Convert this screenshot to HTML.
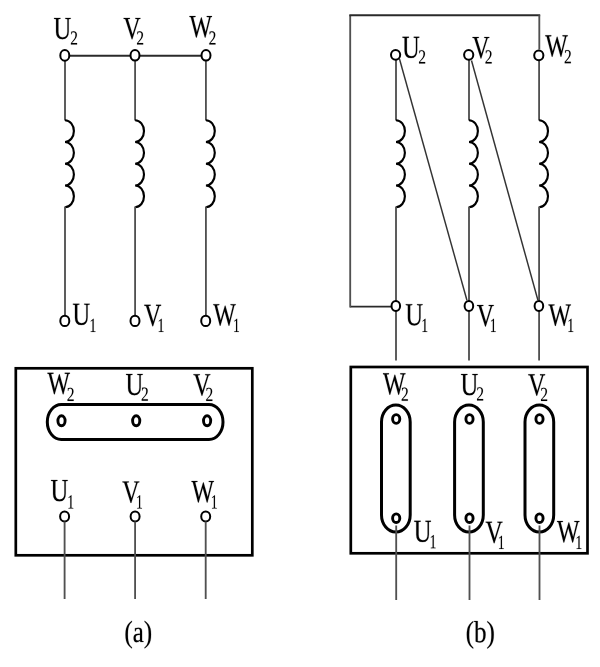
<!DOCTYPE html>
<html><head><meta charset="utf-8"><style>
html,body{margin:0;padding:0;background:#fff;}
svg{display:block;}
.wrap{width:600px;height:667px;}
.g{fill:#000;stroke:#000;stroke-width:14;}
.wire{stroke:#505050;stroke-width:1.85;fill:none;}
.hwire{stroke:#2a2a2a;stroke-width:1.9;fill:none;}
.wire2{stroke:#505050;stroke-width:1.85;fill:none;}
.diag{stroke:#333;stroke-width:1.45;fill:none;}
.coil{stroke:#000;stroke-width:2.15;fill:none;}
.term{stroke:#000;stroke-width:2;fill:#fff;}
.small{stroke:#000;stroke-width:2.9;fill:#fff;}
.box{stroke:#000;stroke-width:2.7;fill:none;}
.ob{stroke:#000;stroke-width:3;fill:none;}
</style></head><body>
<div class="wrap"><svg width="600" height="667" viewBox="0 0 600 667">
<rect width="600" height="667" fill="#fff"/>
<line x1="69.5" y1="55.7" x2="130.5" y2="55.7" class="hwire"/><line x1="139.5" y1="55.7" x2="201.5" y2="55.7" class="hwire"/><line x1="65" y1="60.5" x2="65" y2="120.5" class="wire"/><path d="M65,120.2 a8.9,10.875 0 0 1 0,21.75 a8.9,10.875 0 0 1 0,21.75 a8.9,10.875 0 0 1 0,21.75 a8.9,10.875 0 0 1 0,21.75" class="coil"/><line x1="65" y1="206.5" x2="65" y2="315.5" class="wire"/><line x1="135.1" y1="60.5" x2="135.1" y2="120.5" class="wire"/><path d="M135.1,120.2 a8.9,10.875 0 0 1 0,21.75 a8.9,10.875 0 0 1 0,21.75 a8.9,10.875 0 0 1 0,21.75 a8.9,10.875 0 0 1 0,21.75" class="coil"/><line x1="135.1" y1="206.5" x2="135.1" y2="315.5" class="wire"/><line x1="205.9" y1="60.5" x2="205.9" y2="120.5" class="wire"/><path d="M205.9,120.2 a8.9,10.875 0 0 1 0,21.75 a8.9,10.875 0 0 1 0,21.75 a8.9,10.875 0 0 1 0,21.75 a8.9,10.875 0 0 1 0,21.75" class="coil"/><line x1="205.9" y1="206.5" x2="205.9" y2="315.5" class="wire"/><ellipse cx="64.8" cy="55.4" rx="4.5" ry="5.3" class="term"/><ellipse cx="135" cy="55.3" rx="4.5" ry="5.3" class="term"/><ellipse cx="206" cy="55.3" rx="4.5" ry="5.3" class="term"/><ellipse cx="64.8" cy="320.9" rx="4.5" ry="5.2" class="term"/><ellipse cx="135" cy="320.9" rx="4.5" ry="5.2" class="term"/><ellipse cx="205.7" cy="320.9" rx="4.5" ry="5.2" class="term"/><rect x="15.8" y="368.3" width="236.5" height="187" class="box"/><rect x="47.3" y="404.5" width="175.7" height="35" rx="14" ry="17.5" class="ob"/><ellipse cx="61.5" cy="420.8" rx="3.6" ry="5.0" class="small"/><ellipse cx="136.2" cy="420.8" rx="3.6" ry="5.0" class="small"/><ellipse cx="207.1" cy="420.8" rx="3.6" ry="5.0" class="small"/><ellipse cx="64.6" cy="516.5" rx="4.5" ry="5.0" class="term"/><line x1="64.6" y1="521.5" x2="64.6" y2="599" class="wire2"/><ellipse cx="135.1" cy="516.5" rx="4.5" ry="5.0" class="term"/><line x1="135.1" y1="521.5" x2="135.1" y2="599" class="wire2"/><ellipse cx="205.7" cy="516.5" rx="4.5" ry="5.0" class="term"/><line x1="205.7" y1="521.5" x2="205.7" y2="599" class="wire2"/><path d="M391,306.6 H350.2" class="hwire"/><path d="M350.2,307.5 V15.2" class="wire"/><path d="M349.3,15.2 H540.2" class="hwire"/><path d="M539.3,15.2 V49.5" class="wire"/><line x1="396" y1="59.8" x2="396" y2="120.5" class="wire"/><path d="M396,120.2 a8.9,10.875 0 0 1 0,21.75 a8.9,10.875 0 0 1 0,21.75 a8.9,10.875 0 0 1 0,21.75 a8.9,10.875 0 0 1 0,21.75" class="coil"/><line x1="396" y1="206.5" x2="396" y2="301" class="wire"/><line x1="396" y1="311" x2="396" y2="360.5" class="wire2"/><line x1="469" y1="59.8" x2="469" y2="120.5" class="wire"/><path d="M469,120.2 a8.9,10.875 0 0 1 0,21.75 a8.9,10.875 0 0 1 0,21.75 a8.9,10.875 0 0 1 0,21.75 a8.9,10.875 0 0 1 0,21.75" class="coil"/><line x1="469" y1="206.5" x2="469" y2="301" class="wire"/><line x1="469" y1="311" x2="469" y2="360.5" class="wire2"/><line x1="539.1" y1="59.8" x2="539.1" y2="120.5" class="wire"/><path d="M539.1,120.2 a8.9,10.875 0 0 1 0,21.75 a8.9,10.875 0 0 1 0,21.75 a8.9,10.875 0 0 1 0,21.75 a8.9,10.875 0 0 1 0,21.75" class="coil"/><line x1="539.1" y1="206.5" x2="539.1" y2="301" class="wire"/><line x1="539.1" y1="311" x2="539.1" y2="360.5" class="wire2"/><ellipse cx="395.6" cy="54.8" rx="4.6" ry="4.9" class="term"/><ellipse cx="468.7" cy="54.8" rx="4.6" ry="4.9" class="term"/><ellipse cx="538.8" cy="55.3" rx="4.6" ry="4.9" class="term"/><ellipse cx="395.8" cy="306" rx="4.3" ry="5.0" class="term"/><ellipse cx="468.9" cy="306" rx="4.3" ry="5.0" class="term"/><ellipse cx="538.9" cy="306" rx="4.3" ry="5.0" class="term"/><line x1="399.5" y1="59" x2="467" y2="300.5" class="diag"/><line x1="471.5" y1="60.5" x2="538" y2="300.5" class="diag"/><rect x="350.8" y="367" width="236.7" height="186.3" class="box"/><rect x="381.5" y="405" width="28.7" height="127" rx="14.35" ry="17" class="ob"/><rect x="454.59999999999997" y="405" width="28.7" height="127" rx="14.35" ry="17" class="ob"/><rect x="525.0" y="405" width="28.7" height="127" rx="14.35" ry="17" class="ob"/><ellipse cx="396.2" cy="419" rx="3.6" ry="4.35" class="small"/><ellipse cx="396.2" cy="518.2" rx="3.6" ry="4.35" class="small"/><line x1="396.2" y1="525.5" x2="396.2" y2="600" class="wire2"/><ellipse cx="469.5" cy="419" rx="3.6" ry="4.35" class="small"/><ellipse cx="469.5" cy="518.2" rx="3.6" ry="4.35" class="small"/><line x1="469.5" y1="525.5" x2="469.5" y2="600" class="wire2"/><ellipse cx="539.5" cy="419" rx="3.6" ry="4.35" class="small"/><ellipse cx="539.5" cy="518.2" rx="3.6" ry="4.35" class="small"/><line x1="539.5" y1="525.5" x2="539.5" y2="600" class="wire2"/>
<path transform="matrix(0.01203,0,0,-0.01562,53.48,38.85)" d="M1159 1262 979 1288V1341H1436V1288L1264 1262V461Q1264 220 1131.5 100.0Q999 -20 747 -20Q480 -20 347.5 100.5Q215 221 215 442V1262L43 1288V1341H579V1288L407 1262V457Q407 92 762 92Q954 92 1056.5 183.0Q1159 274 1159 453Z" class="g"/><path transform="matrix(0.00752,0,0,-0.00977,70.22,44.60)" d="M911 0H90V147L276 316Q455 473 539.0 570.0Q623 667 659.5 770.0Q696 873 696 1006Q696 1136 637.0 1204.0Q578 1272 444 1272Q391 1272 335.0 1257.5Q279 1243 236 1219L201 1055H135V1313Q317 1356 444 1356Q664 1356 774.5 1264.5Q885 1173 885 1006Q885 894 841.5 794.5Q798 695 708.0 596.5Q618 498 410 321Q321 245 221 154H911Z" class="g"/><path transform="matrix(0.01172,0,0,-0.01562,123.33,38.85)" d="M1456 1341V1288L1309 1262L770 -31H719L174 1262L23 1288V1341H565V1288L385 1262L791 275L1196 1262L1020 1288V1341Z" class="g"/><path transform="matrix(0.00752,0,0,-0.00977,136.32,44.60)" d="M911 0H90V147L276 316Q455 473 539.0 570.0Q623 667 659.5 770.0Q696 873 696 1006Q696 1136 637.0 1204.0Q578 1272 444 1272Q391 1272 335.0 1257.5Q279 1243 236 1219L201 1055H135V1313Q317 1356 444 1356Q664 1356 774.5 1264.5Q885 1173 885 1006Q885 894 841.5 794.5Q798 695 708.0 596.5Q618 498 410 321Q321 245 221 154H911Z" class="g"/><path transform="matrix(0.01164,0,0,-0.01562,189.48,37.05)" d="M1374 -31H1321L973 893L616 -31H563L119 1262L2 1288V1341H514V1288L317 1262L636 317L997 1247H1042L1390 317L1694 1262L1485 1288V1341H1929V1288L1812 1262Z" class="g"/><path transform="matrix(0.00752,0,0,-0.00977,208.62,44.60)" d="M911 0H90V147L276 316Q455 473 539.0 570.0Q623 667 659.5 770.0Q696 873 696 1006Q696 1136 637.0 1204.0Q578 1272 444 1272Q391 1272 335.0 1257.5Q279 1243 236 1219L201 1055H135V1313Q317 1356 444 1356Q664 1356 774.5 1264.5Q885 1173 885 1006Q885 894 841.5 794.5Q798 695 708.0 596.5Q618 498 410 321Q321 245 221 154H911Z" class="g"/><path transform="matrix(0.01203,0,0,-0.01562,72.38,324.70)" d="M1159 1262 979 1288V1341H1436V1288L1264 1262V461Q1264 220 1131.5 100.0Q999 -20 747 -20Q480 -20 347.5 100.5Q215 221 215 442V1262L43 1288V1341H579V1288L407 1262V457Q407 92 762 92Q954 92 1056.5 183.0Q1159 274 1159 453Z" class="g"/><path transform="matrix(0.00664,0,0,-0.00977,89.50,332.00)" d="M627 80 901 53V0H180V53L455 80V1174L184 1077V1130L575 1352H627Z" class="g"/><path transform="matrix(0.01172,0,0,-0.01562,144.03,325.75)" d="M1456 1341V1288L1309 1262L770 -31H719L174 1262L23 1288V1341H565V1288L385 1262L791 275L1196 1262L1020 1288V1341Z" class="g"/><path transform="matrix(0.00664,0,0,-0.00977,157.55,332.00)" d="M627 80 901 53V0H180V53L455 80V1174L184 1077V1130L575 1352H627Z" class="g"/><path transform="matrix(0.01164,0,0,-0.01562,213.28,325.15)" d="M1374 -31H1321L973 893L616 -31H563L119 1262L2 1288V1341H514V1288L317 1262L636 317L997 1247H1042L1390 317L1694 1262L1485 1288V1341H1929V1288L1812 1262Z" class="g"/><path transform="matrix(0.00664,0,0,-0.00977,233.00,332.00)" d="M627 80 901 53V0H180V53L455 80V1174L184 1077V1130L575 1352H627Z" class="g"/><path transform="matrix(0.01164,0,0,-0.01562,47.48,393.75)" d="M1374 -31H1321L973 893L616 -31H563L119 1262L2 1288V1341H514V1288L317 1262L636 317L997 1247H1042L1390 317L1694 1262L1485 1288V1341H1929V1288L1812 1262Z" class="g"/><path transform="matrix(0.00752,0,0,-0.00977,66.82,401.00)" d="M911 0H90V147L276 316Q455 473 539.0 570.0Q623 667 659.5 770.0Q696 873 696 1006Q696 1136 637.0 1204.0Q578 1272 444 1272Q391 1272 335.0 1257.5Q279 1243 236 1219L201 1055H135V1313Q317 1356 444 1356Q664 1356 774.5 1264.5Q885 1173 885 1006Q885 894 841.5 794.5Q798 695 708.0 596.5Q618 498 410 321Q321 245 221 154H911Z" class="g"/><path transform="matrix(0.01203,0,0,-0.01562,125.48,394.85)" d="M1159 1262 979 1288V1341H1436V1288L1264 1262V461Q1264 220 1131.5 100.0Q999 -20 747 -20Q480 -20 347.5 100.5Q215 221 215 442V1262L43 1288V1341H579V1288L407 1262V457Q407 92 762 92Q954 92 1056.5 183.0Q1159 274 1159 453Z" class="g"/><path transform="matrix(0.00752,0,0,-0.00977,141.02,400.70)" d="M911 0H90V147L276 316Q455 473 539.0 570.0Q623 667 659.5 770.0Q696 873 696 1006Q696 1136 637.0 1204.0Q578 1272 444 1272Q391 1272 335.0 1257.5Q279 1243 236 1219L201 1055H135V1313Q317 1356 444 1356Q664 1356 774.5 1264.5Q885 1173 885 1006Q885 894 841.5 794.5Q798 695 708.0 596.5Q618 498 410 321Q321 245 221 154H911Z" class="g"/><path transform="matrix(0.01172,0,0,-0.01562,193.23,395.15)" d="M1456 1341V1288L1309 1262L770 -31H719L174 1262L23 1288V1341H565V1288L385 1262L791 275L1196 1262L1020 1288V1341Z" class="g"/><path transform="matrix(0.00752,0,0,-0.00977,205.52,401.00)" d="M911 0H90V147L276 316Q455 473 539.0 570.0Q623 667 659.5 770.0Q696 873 696 1006Q696 1136 637.0 1204.0Q578 1272 444 1272Q391 1272 335.0 1257.5Q279 1243 236 1219L201 1055H135V1313Q317 1356 444 1356Q664 1356 774.5 1264.5Q885 1173 885 1006Q885 894 841.5 794.5Q798 695 708.0 596.5Q618 498 410 321Q321 245 221 154H911Z" class="g"/><path transform="matrix(0.01203,0,0,-0.01562,50.48,500.95)" d="M1159 1262 979 1288V1341H1436V1288L1264 1262V461Q1264 220 1131.5 100.0Q999 -20 747 -20Q480 -20 347.5 100.5Q215 221 215 442V1262L43 1288V1341H579V1288L407 1262V457Q407 92 762 92Q954 92 1056.5 183.0Q1159 274 1159 453Z" class="g"/><path transform="matrix(0.00664,0,0,-0.00977,67.30,508.50)" d="M627 80 901 53V0H180V53L455 80V1174L184 1077V1130L575 1352H627Z" class="g"/><path transform="matrix(0.01172,0,0,-0.01562,122.23,502.45)" d="M1456 1341V1288L1309 1262L770 -31H719L174 1262L23 1288V1341H565V1288L385 1262L791 275L1196 1262L1020 1288V1341Z" class="g"/><path transform="matrix(0.00664,0,0,-0.00977,136.00,508.50)" d="M627 80 901 53V0H180V53L455 80V1174L184 1077V1130L575 1352H627Z" class="g"/><path transform="matrix(0.01164,0,0,-0.01562,191.48,501.95)" d="M1374 -31H1321L973 893L616 -31H563L119 1262L2 1288V1341H514V1288L317 1262L636 317L997 1247H1042L1390 317L1694 1262L1485 1288V1341H1929V1288L1812 1262Z" class="g"/><path transform="matrix(0.00664,0,0,-0.00977,210.80,508.50)" d="M627 80 901 53V0H180V53L455 80V1174L184 1077V1130L575 1352H627Z" class="g"/><path transform="matrix(0.01203,0,0,-0.01562,401.98,57.75)" d="M1159 1262 979 1288V1341H1436V1288L1264 1262V461Q1264 220 1131.5 100.0Q999 -20 747 -20Q480 -20 347.5 100.5Q215 221 215 442V1262L43 1288V1341H579V1288L407 1262V457Q407 92 762 92Q954 92 1056.5 183.0Q1159 274 1159 453Z" class="g"/><path transform="matrix(0.00752,0,0,-0.00977,418.32,63.50)" d="M911 0H90V147L276 316Q455 473 539.0 570.0Q623 667 659.5 770.0Q696 873 696 1006Q696 1136 637.0 1204.0Q578 1272 444 1272Q391 1272 335.0 1257.5Q279 1243 236 1219L201 1055H135V1313Q317 1356 444 1356Q664 1356 774.5 1264.5Q885 1173 885 1006Q885 894 841.5 794.5Q798 695 708.0 596.5Q618 498 410 321Q321 245 221 154H911Z" class="g"/><path transform="matrix(0.01172,0,0,-0.01562,472.23,57.95)" d="M1456 1341V1288L1309 1262L770 -31H719L174 1262L23 1288V1341H565V1288L385 1262L791 275L1196 1262L1020 1288V1341Z" class="g"/><path transform="matrix(0.00752,0,0,-0.00977,484.82,63.50)" d="M911 0H90V147L276 316Q455 473 539.0 570.0Q623 667 659.5 770.0Q696 873 696 1006Q696 1136 637.0 1204.0Q578 1272 444 1272Q391 1272 335.0 1257.5Q279 1243 236 1219L201 1055H135V1313Q317 1356 444 1356Q664 1356 774.5 1264.5Q885 1173 885 1006Q885 894 841.5 794.5Q798 695 708.0 596.5Q618 498 410 321Q321 245 221 154H911Z" class="g"/><path transform="matrix(0.01164,0,0,-0.01562,545.28,56.25)" d="M1374 -31H1321L973 893L616 -31H563L119 1262L2 1288V1341H514V1288L317 1262L636 317L997 1247H1042L1390 317L1694 1262L1485 1288V1341H1929V1288L1812 1262Z" class="g"/><path transform="matrix(0.00752,0,0,-0.00977,564.02,63.30)" d="M911 0H90V147L276 316Q455 473 539.0 570.0Q623 667 659.5 770.0Q696 873 696 1006Q696 1136 637.0 1204.0Q578 1272 444 1272Q391 1272 335.0 1257.5Q279 1243 236 1219L201 1055H135V1313Q317 1356 444 1356Q664 1356 774.5 1264.5Q885 1173 885 1006Q885 894 841.5 794.5Q798 695 708.0 596.5Q618 498 410 321Q321 245 221 154H911Z" class="g"/><path transform="matrix(0.01203,0,0,-0.01562,405.28,325.15)" d="M1159 1262 979 1288V1341H1436V1288L1264 1262V461Q1264 220 1131.5 100.0Q999 -20 747 -20Q480 -20 347.5 100.5Q215 221 215 442V1262L43 1288V1341H579V1288L407 1262V457Q407 92 762 92Q954 92 1056.5 183.0Q1159 274 1159 453Z" class="g"/><path transform="matrix(0.00664,0,0,-0.00977,421.30,332.00)" d="M627 80 901 53V0H180V53L455 80V1174L184 1077V1130L575 1352H627Z" class="g"/><path transform="matrix(0.01172,0,0,-0.01562,476.73,325.95)" d="M1456 1341V1288L1309 1262L770 -31H719L174 1262L23 1288V1341H565V1288L385 1262L791 275L1196 1262L1020 1288V1341Z" class="g"/><path transform="matrix(0.00664,0,0,-0.00977,489.80,332.00)" d="M627 80 901 53V0H180V53L455 80V1174L184 1077V1130L575 1352H627Z" class="g"/><path transform="matrix(0.01164,0,0,-0.01562,548.48,325.45)" d="M1374 -31H1321L973 893L616 -31H563L119 1262L2 1288V1341H514V1288L317 1262L636 317L997 1247H1042L1390 317L1694 1262L1485 1288V1341H1929V1288L1812 1262Z" class="g"/><path transform="matrix(0.00664,0,0,-0.00977,567.30,332.00)" d="M627 80 901 53V0H180V53L455 80V1174L184 1077V1130L575 1352H627Z" class="g"/><path transform="matrix(0.01164,0,0,-0.01562,382.98,394.25)" d="M1374 -31H1321L973 893L616 -31H563L119 1262L2 1288V1341H514V1288L317 1262L636 317L997 1247H1042L1390 317L1694 1262L1485 1288V1341H1929V1288L1812 1262Z" class="g"/><path transform="matrix(0.00752,0,0,-0.00977,401.02,400.80)" d="M911 0H90V147L276 316Q455 473 539.0 570.0Q623 667 659.5 770.0Q696 873 696 1006Q696 1136 637.0 1204.0Q578 1272 444 1272Q391 1272 335.0 1257.5Q279 1243 236 1219L201 1055H135V1313Q317 1356 444 1356Q664 1356 774.5 1264.5Q885 1173 885 1006Q885 894 841.5 794.5Q798 695 708.0 596.5Q618 498 410 321Q321 245 221 154H911Z" class="g"/><path transform="matrix(0.01203,0,0,-0.01562,460.48,394.95)" d="M1159 1262 979 1288V1341H1436V1288L1264 1262V461Q1264 220 1131.5 100.0Q999 -20 747 -20Q480 -20 347.5 100.5Q215 221 215 442V1262L43 1288V1341H579V1288L407 1262V457Q407 92 762 92Q954 92 1056.5 183.0Q1159 274 1159 453Z" class="g"/><path transform="matrix(0.00752,0,0,-0.00977,476.32,400.50)" d="M911 0H90V147L276 316Q455 473 539.0 570.0Q623 667 659.5 770.0Q696 873 696 1006Q696 1136 637.0 1204.0Q578 1272 444 1272Q391 1272 335.0 1257.5Q279 1243 236 1219L201 1055H135V1313Q317 1356 444 1356Q664 1356 774.5 1264.5Q885 1173 885 1006Q885 894 841.5 794.5Q798 695 708.0 596.5Q618 498 410 321Q321 245 221 154H911Z" class="g"/><path transform="matrix(0.01172,0,0,-0.01562,528.03,395.25)" d="M1456 1341V1288L1309 1262L770 -31H719L174 1262L23 1288V1341H565V1288L385 1262L791 275L1196 1262L1020 1288V1341Z" class="g"/><path transform="matrix(0.00752,0,0,-0.00977,540.32,401.00)" d="M911 0H90V147L276 316Q455 473 539.0 570.0Q623 667 659.5 770.0Q696 873 696 1006Q696 1136 637.0 1204.0Q578 1272 444 1272Q391 1272 335.0 1257.5Q279 1243 236 1219L201 1055H135V1313Q317 1356 444 1356Q664 1356 774.5 1264.5Q885 1173 885 1006Q885 894 841.5 794.5Q798 695 708.0 596.5Q618 498 410 321Q321 245 221 154H911Z" class="g"/><path transform="matrix(0.01203,0,0,-0.01562,413.68,541.75)" d="M1159 1262 979 1288V1341H1436V1288L1264 1262V461Q1264 220 1131.5 100.0Q999 -20 747 -20Q480 -20 347.5 100.5Q215 221 215 442V1262L43 1288V1341H579V1288L407 1262V457Q407 92 762 92Q954 92 1056.5 183.0Q1159 274 1159 453Z" class="g"/><path transform="matrix(0.00664,0,0,-0.00977,429.60,548.30)" d="M627 80 901 53V0H180V53L455 80V1174L184 1077V1130L575 1352H627Z" class="g"/><path transform="matrix(0.01172,0,0,-0.01562,485.43,542.65)" d="M1456 1341V1288L1309 1262L770 -31H719L174 1262L23 1288V1341H565V1288L385 1262L791 275L1196 1262L1020 1288V1341Z" class="g"/><path transform="matrix(0.00664,0,0,-0.00977,497.80,549.00)" d="M627 80 901 53V0H180V53L455 80V1174L184 1077V1130L575 1352H627Z" class="g"/><path transform="matrix(0.01164,0,0,-0.01562,556.98,541.95)" d="M1374 -31H1321L973 893L616 -31H563L119 1262L2 1288V1341H514V1288L317 1262L636 317L997 1247H1042L1390 317L1694 1262L1485 1288V1341H1929V1288L1812 1262Z" class="g"/><path transform="matrix(0.00664,0,0,-0.00977,575.40,549.00)" d="M627 80 901 53V0H180V53L455 80V1174L184 1077V1130L575 1352H627Z" class="g"/>
<path transform="matrix(0.01221,0,0,-0.01489,124.40,641.96)" d="M283 494Q283 234 318.0 79.5Q353 -75 428.0 -181.0Q503 -287 616 -352V-436Q418 -331 306.5 -206.5Q195 -82 142.5 86.5Q90 255 90 494Q90 732 142.0 899.5Q194 1067 305.0 1191.0Q416 1315 616 1421V1337Q494 1267 422.0 1157.5Q350 1048 316.5 902.0Q283 756 283 494Z" class="g"/><path transform="matrix(0.01221,0,0,-0.01489,132.73,641.96)" d="M465 961Q619 961 691.5 898.0Q764 835 764 705V70L881 45V0H623L604 94Q490 -20 313 -20Q72 -20 72 260Q72 354 108.5 415.5Q145 477 225.0 509.5Q305 542 457 545L598 549V696Q598 793 562.5 839.0Q527 885 453 885Q353 885 270 838L236 721H180V926Q342 961 465 961ZM598 479 467 475Q333 470 285.5 423.0Q238 376 238 266Q238 90 381 90Q449 90 498.5 105.5Q548 121 598 145Z" class="g"/><path transform="matrix(0.01221,0,0,-0.01489,143.83,641.96)" d="M66 -436V-352Q179 -287 254.0 -180.5Q329 -74 364.0 80.5Q399 235 399 494Q399 756 365.5 902.0Q332 1048 260.0 1157.5Q188 1267 66 1337V1421Q266 1314 377.0 1190.5Q488 1067 540.0 899.5Q592 732 592 494Q592 256 540.0 87.5Q488 -81 377.0 -205.0Q266 -329 66 -436Z" class="g"/><path transform="matrix(0.01221,0,0,-0.01489,465.70,642.16)" d="M283 494Q283 234 318.0 79.5Q353 -75 428.0 -181.0Q503 -287 616 -352V-436Q418 -331 306.5 -206.5Q195 -82 142.5 86.5Q90 255 90 494Q90 732 142.0 899.5Q194 1067 305.0 1191.0Q416 1315 616 1421V1337Q494 1267 422.0 1157.5Q350 1048 316.5 902.0Q283 756 283 494Z" class="g"/><path transform="matrix(0.01221,0,0,-0.01489,474.03,642.16)" d="M766 496Q766 680 702.0 770.0Q638 860 504 860Q445 860 387.0 849.5Q329 839 303 827V82Q387 66 504 66Q642 66 704.0 174.0Q766 282 766 496ZM137 1352 0 1376V1421H303V1085Q303 1031 297 887Q397 965 549 965Q741 965 843.5 848.5Q946 732 946 496Q946 243 833.5 111.5Q721 -20 508 -20Q422 -20 318.5 -1.0Q215 18 137 49Z" class="g"/><path transform="matrix(0.01221,0,0,-0.01489,486.53,642.16)" d="M66 -436V-352Q179 -287 254.0 -180.5Q329 -74 364.0 80.5Q399 235 399 494Q399 756 365.5 902.0Q332 1048 260.0 1157.5Q188 1267 66 1337V1421Q266 1314 377.0 1190.5Q488 1067 540.0 899.5Q592 732 592 494Q592 256 540.0 87.5Q488 -81 377.0 -205.0Q266 -329 66 -436Z" class="g"/>
</svg></div>
</body></html>
